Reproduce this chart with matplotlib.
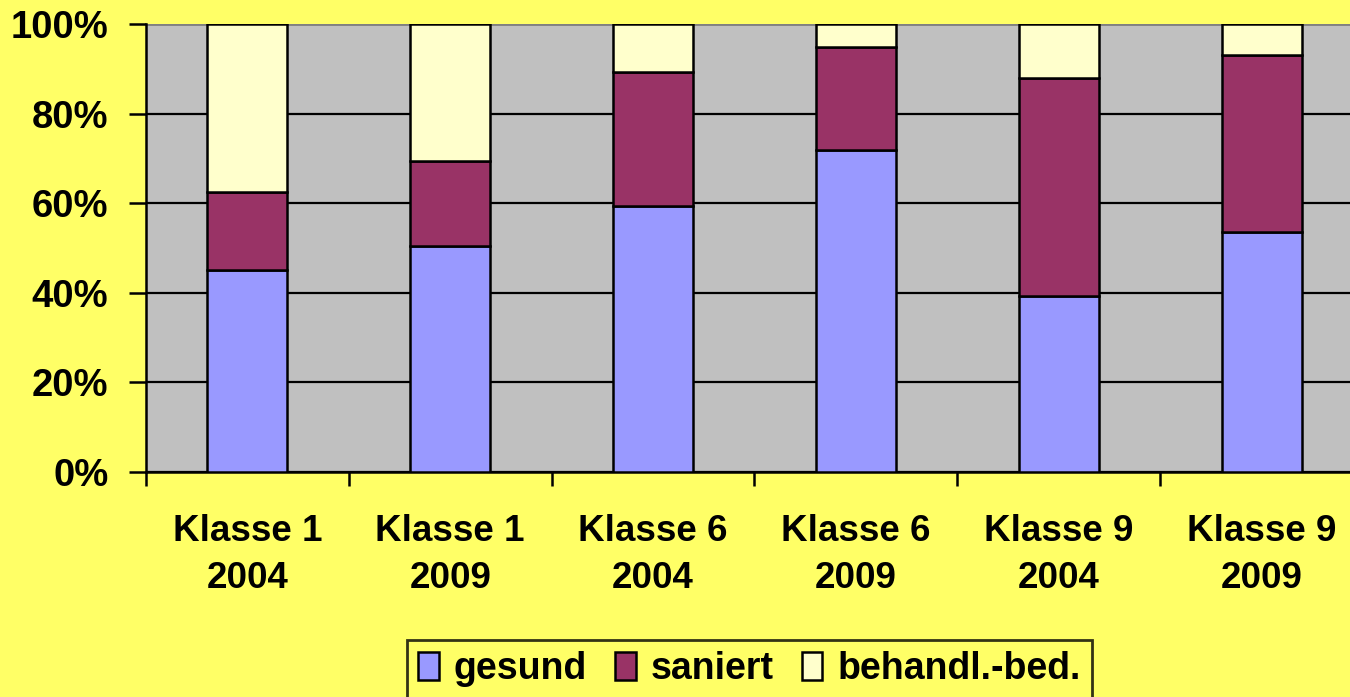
import numpy as np
import matplotlib.pyplot as plt
from matplotlib.ticker import PercentFormatter

# Anteile je Gruppe (in %)
labels = ['Klasse 1\n2004', 'Klasse 1\n2009', 'Klasse 6\n2004',
          'Klasse 6\n2009', 'Klasse 9\n2004', 'Klasse 9\n2009']
gesund = [45.1, 50.4, 59.4, 71.9, 39.3, 53.6]
saniert = [17.4, 19.0, 29.9, 23.0, 48.6, 39.5]
behandl = [100 - g - s for g, s in zip(gesund, saniert)]

plt.rcParams['font.family'] = ['Liberation Sans', 'DejaVu Sans']
plt.rcParams['font.weight'] = 'bold'

fig = plt.figure(figsize=(13.5, 6.97), dpi=100, facecolor='#FFFF66')
ax = fig.add_axes([0.1081, 0.3228, 0.9015, 0.6428])
ax.set_facecolor('#C0C0C0')

x = np.arange(len(labels))
w = 0.394
kw = dict(width=w, edgecolor='black', linewidth=1.8, zorder=3)
ax.bar(x, gesund, color='#9999FF', label='gesund', **kw)
ax.bar(x, saniert, bottom=gesund, color='#993366', label='saniert', **kw)
ax.bar(x, behandl, bottom=np.add(gesund, saniert), color='#FFFFCC',
       label='behandl.-bed.', **kw)

ax.set_xlim(-0.5, len(labels) - 0.5)
ax.set_ylim(0, 100)
ax.set_yticks(np.arange(0, 101, 20))
ax.yaxis.set_major_formatter(PercentFormatter(decimals=0))
ax.yaxis.grid(True, color='black', linewidth=1.6, zorder=1)

ax.set_xticks(np.arange(-0.5, len(labels) - 0.4, 1.0))
ax.set_xticklabels([])
ax.set_xticks(x, minor=True)
ax.set_xticklabels(labels, minor=True, fontsize=26.5, fontweight='bold',
                   linespacing=1.45)
ax.tick_params(axis='x', which='minor', length=0, pad=30)
ax.tick_params(axis='x', which='major', length=10, width=1.8, direction='out')
ax.tick_params(axis='y', length=12, width=1.8, labelsize=27.5, pad=15)

for side in ['top', 'right']:
    ax.spines[side].set_visible(False)
ax.spines['left'].set_linewidth(1.8)
ax.spines['bottom'].set_linewidth(1.8)
ax.axhline(100, color='#808080', linewidth=2, zorder=2)

leg = fig.legend(loc='center', bbox_to_anchor=(0.555, 0.04), ncol=3,
                 frameon=True, fancybox=False, edgecolor='black',
                 facecolor='#FFFF66', fontsize=27, handlelength=0.55,
                 handleheight=0.8, handletextpad=0.4, columnspacing=0.75,
                 borderpad=0.3)
leg.get_frame().set_linewidth(2)
for t in leg.get_texts():
    t.set_fontweight('bold')

fig.savefig('out.png', dpi=100, facecolor=fig.get_facecolor())
